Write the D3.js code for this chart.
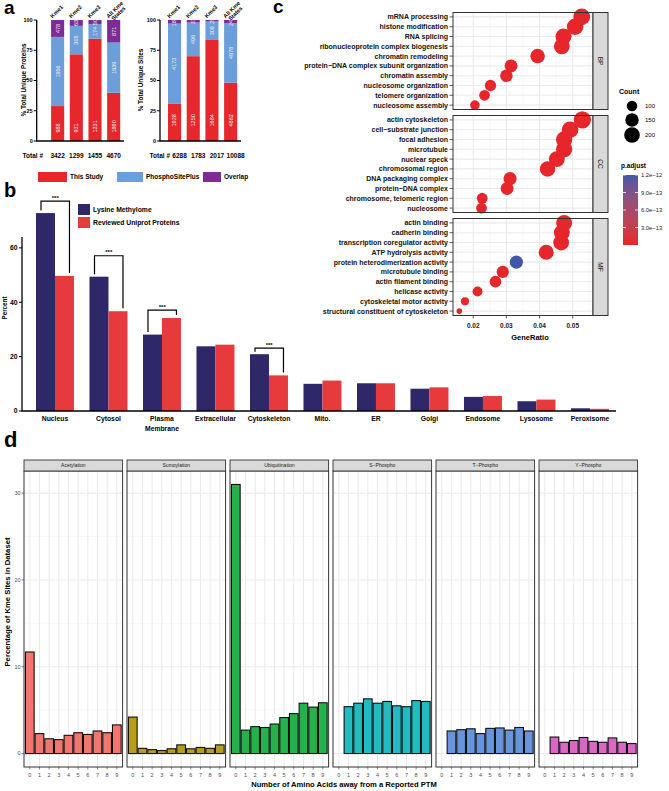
<!DOCTYPE html>
<html><head><meta charset="utf-8">
<script src="https://cdn.jsdelivr.net/npm/d3@7"></script>
<style>
body{margin:0;background:#fff}
svg{display:block}
text{font-family:"Liberation Sans",Arial,Helvetica,sans-serif}
</style>
</head><body>
<svg id="fig" width="669" height="791"></svg>
<script>
// ================= DATA =================
// Panel a
const kmeStates = ["Kme1", "Kme2", "Kme3", "All Kme States"];
const proteinsThisStudy = [988, 931, 1231, 1860];
const proteinsPSP = [1956, 305, 174, 1939];
const proteinsOverlap = [478, 63, 50, 871];
const proteinsTotal = [3422, 1299, 1455, 4670];
const sitesThisStudy = [1928, 1250, 1684, 4862];
const sitesPSP = [4173, 496, 308, 4978];
const sitesOverlap = [187, 37, 25, 248];
const sitesTotal = [6288, 1783, 2017, 10088];
const aTicks = [0, 25, 50, 75, 100];
const aLegend = ["This Study", "PhosphoSitePlus", "Overlap"];

// Panel b
const compartments = ["Nucleus", "Cytosol", "Plasma Membrane", "Extracellular", "Cytoskeleton", "Mito.", "ER", "Golgi", "Endosome", "Lysosome", "Peroxisome"];
const methylomePct = [72.8, 49.4, 28.1, 23.8, 20.9, 10.0, 10.2, 8.2, 5.2, 3.6, 1.0];
const uniprotPct = [49.7, 36.7, 34.2, 24.4, 13.1, 11.2, 10.2, 8.7, 5.5, 4.2, 0.8];
const bSeries = ["Lysine Methylome", "Reviewed Uniprot Proteins"];
const bTicks = [0, 20, 40, 60];
const sigCompartments = ["Nucleus", "Cytosol", "Plasma Membrane", "Cytoskeleton"];
const sigLevels = [77.2, 57.1, 37.1, 23.1];
const sigLabel = "***";

// Panel c
const goOntologies = ["BP", "CC", "MF"];
const bpTerms = ["mRNA processing", "histone modification", "RNA splicing", "ribonucleoprotein complex biogenesis", "chromatin remodeling", "protein\u2212DNA complex subunit organization", "chromatin assembly", "nucleosome organization", "telomere organization", "nucleosome assembly"];
const bpRatio = [0.0527, 0.0507, 0.0472, 0.0467, 0.0394, 0.0314, 0.0300, 0.0252, 0.0234, 0.0205];
const bpCount = [232, 223, 208, 205, 173, 138, 132, 111, 103, 90];
const bpPadj = [1e-40, 1e-38, 1e-33, 1e-30, 1e-28, 1e-25, 1e-24, 1e-22, 1e-20, 1e-19];
const ccTerms = ["actin cytoskeleton", "cell\u2212substrate junction", "focal adhesion", "microtubule", "nuclear speck", "chromosomal region", "DNA packaging complex", "protein\u2212DNA complex", "chromosome, telomeric region", "nucleosome"];
const ccRatio = [0.0529, 0.0492, 0.0474, 0.0474, 0.0452, 0.0424, 0.0311, 0.0302, 0.0227, 0.0225];
const ccCount = [245, 228, 219, 219, 209, 196, 144, 140, 105, 104];
const ccPadj = [1e-42, 1e-36, 1e-34, 1e-33, 1e-31, 1e-29, 1e-24, 1e-23, 1e-19, 1e-18];
const mfTerms = ["actin binding", "cadherin binding", "transcription coregulator activity", "ATP hydrolysis activity", "protein heterodimerization activity", "microtubule binding", "actin filament binding", "helicase activity", "cytoskeletal motor activity", "structural constituent of cytoskeleton"];
const mfRatio = [0.0474, 0.0467, 0.0465, 0.0420, 0.0330, 0.0289, 0.0267, 0.0213, 0.0175, 0.0158];
const mfCount = [208, 205, 204, 185, 145, 127, 117, 94, 77, 69];
const mfPadj = [1e-30, 1e-29, 1e-28, 1e-25, 1.2e-12, 1e-18, 1e-17, 1e-16, 1e-15, 1e-14];
const cXTicks = [0.02, 0.03, 0.04, 0.05];
const countLegend = [100, 150, 200];
const padjLegend = [1.2e-12, 9.0e-13, 6.0e-13, 3.0e-13];
const padjLegendLabels = ["1.2e\u221212", "9.0e\u221213", "6.0e\u221213", "3.0e\u221213"];

// Panel d
const ptmTypes = ["Acetylation", "Sumoylation", "Ubiquitination", "S\u2212Phospho", "T\u2212Phospho", "Y\u2212Phospho"];
const distances = ["0", "1", "2", "3", "4", "5", "6", "7", "8", "9"];
const acetylationPct = [11.7, 2.3, 1.7, 1.6, 2.1, 2.4, 2.2, 2.6, 2.4, 3.3];
const sumoylationPct = [4.2, 0.6, 0.45, 0.35, 0.55, 1.0, 0.55, 0.7, 0.6, 1.0];
const ubiquitinationPct = [31.0, 2.7, 3.1, 3.0, 3.4, 4.15, 4.6, 5.8, 5.35, 5.85];
const sPhosphoPct = [null, 5.4, 5.8, 6.3, 5.8, 6.0, 5.5, 5.4, 6.1, 6.0];
const tPhosphoPct = [null, 2.6, 2.75, 2.85, 2.3, 2.9, 2.95, 2.7, 3.0, 2.6];
const yPhosphoPct = [null, 1.9, 1.3, 1.5, 1.85, 1.4, 1.3, 1.8, 1.3, 1.15];
const dTicks = [0, 10, 20, 30];

// ================= STYLE =================
const RED_A = "#E6282C", BLUE_A = "#6C9FD9", PURPLE_A = "#7B2C96";
const NAVY_B = "#2E2868", RED_B = "#E63A3D";
const LOW_C = "#E6262B", HIGH_C = "#4257A8";
const PTM_COLORS = ["#F2766D", "#B59C1C", "#24B24A", "#20BCC2", "#6794DA", "#DB67C4"];
const GRID = "#EBEBEB", BORDER = "#333333";

const svg = d3.select("#fig");

function panelLabel(t, x, y, fs) {
  svg.append("text").attr("x", x).attr("y", y).attr("font-size", fs)
    .attr("font-weight", "bold").text(t);
}
panelLabel("a", 4, 14, 19);
panelLabel("b", 4, 197, 20);
panelLabel("c", 273, 13, 19);
panelLabel("d", 4, 447, 22);

// ================= PANEL A =================
function stackedPanel(o) {
  const y = d3.scaleLinear().domain([0, 100]).range([141, 20]);
  const x = d3.scaleBand().domain(kmeStates).range(o.xRange).paddingInner(0.3).paddingOuter(0.15);
  const g = svg.append("g");
  kmeStates.forEach((k, i) => {
    const tot = o.a[i] + o.b[i] + o.c[i];
    const cum = [0, o.a[i] / tot * 100, (o.a[i] + o.b[i]) / tot * 100, 100];
    const cols = [RED_A, BLUE_A, PURPLE_A];
    const nums = [o.a[i], o.b[i], o.c[i]];
    for (let s = 0; s < 3; s++) {
      g.append("rect").attr("x", x(k)).attr("width", x.bandwidth())
        .attr("y", y(cum[s + 1])).attr("height", y(cum[s]) - y(cum[s + 1]))
        .attr("fill", cols[s]);
    }
    for (let s = 0; s < 3; s++) {
      const cx = x(k) + x.bandwidth() / 2;
      let t;
      if (s === 0) {
        t = g.append("text").attr("transform", `translate(${cx},${y(o.redStart)}) rotate(-90)`)
          .attr("text-anchor", "start");
      } else {
        const cy = y((cum[s] + cum[s + 1]) / 2);
        t = g.append("text").attr("transform", `translate(${cx},${cy}) rotate(-90)`)
          .attr("text-anchor", "middle");
      }
      t.attr("dy", "0.35em").attr("font-size", 5.5).attr("fill", "#EEEEEE").text(nums[s]);
    }
    // header
    const hx = x(k) + 1.5;
    const words = k === "All Kme States" ? ["All Kme", "States"] : [k];
    const ht = g.append("text").attr("transform", `translate(${hx},18.5) rotate(-45)`)
      .attr("font-size", 5.7).attr("font-weight", "bold");
    words.forEach((w, wi) => ht.append("tspan").attr("x", wi * 2).attr("dy", wi ? 5.3 : 0).text(w));
    // totals
    g.append("text").attr("x", x(k) + x.bandwidth() / 2 + o.totShift).attr("y", 157.5)
      .attr("text-anchor", "middle").attr("font-size", 6.5).attr("font-weight", "bold").text(o.tot[i]);
  });
  g.append("text").attr("x", o.totLabelX).attr("y", 157.5).attr("text-anchor", "end")
    .attr("font-size", 6.5).attr("font-weight", "bold").text("Total #");
  // axes
  g.append("line").attr("x1", o.axisX).attr("x2", o.axisX).attr("y1", y(100)).attr("y2", y(0))
    .attr("stroke", "#000").attr("stroke-width", 1.3);
  g.append("line").attr("x1", o.axisX - 0.6).attr("x2", o.xRange[1] + 1).attr("y1", y(0)).attr("y2", y(0))
    .attr("stroke", "#000").attr("stroke-width", 1.5);
  aTicks.forEach(t => {
    g.append("line").attr("x1", o.axisX - 3).attr("x2", o.axisX).attr("y1", y(t)).attr("y2", y(t))
      .attr("stroke", "#000").attr("stroke-width", 1);
    g.append("text").attr("x", o.axisX - 4).attr("y", y(t)).attr("dy", "0.35em")
      .attr("text-anchor", "end").attr("font-size", 5.5).attr("font-weight", "bold").text(t);
  });
  g.append("text").attr("transform", `translate(${o.titleX},80) rotate(-90)`)
    .attr("text-anchor", "middle").attr("font-size", 6.4).attr("font-weight", "bold").text(o.title);
}
stackedPanel({a: proteinsThisStudy, b: proteinsPSP, c: proteinsOverlap, tot: proteinsTotal,
  xRange: [48.3, 123], axisX: 36.7, title: "% Total Unique Proteins", titleX: 25.5,
  totShift: 0, totLabelX: 43, redStart: 7});
stackedPanel({a: sitesThisStudy, b: sitesPSP, c: sitesOverlap, tot: sitesTotal,
  xRange: [165.2, 240], axisX: 160, title: "% Total Unique Sites", titleX: 142.5,
  totShift: 5, totLabelX: 170, redStart: 12});

// legend a
(function () {
  const items = [{x: 38, w: 29, c: RED_A}, {x: 117, w: 26, c: BLUE_A}, {x: 203, w: 18, c: PURPLE_A}];
  items.forEach((it, i) => {
    svg.append("rect").attr("x", it.x).attr("y", 172).attr("width", it.w).attr("height", 10).attr("fill", it.c);
    svg.append("text").attr("x", it.x + it.w + 3).attr("y", 177).attr("dy", "0.35em")
      .attr("font-size", 6.5).attr("font-weight", "bold").text(aLegend[i]);
  });
})();

// ================= PANEL B =================
(function () {
  const y = d3.scaleLinear().domain([0, 64]).range([411, 237]);
  const x = d3.scaleBand().domain(compartments).range([28.24, 616.7]).paddingInner(0.29).paddingOuter(0.145);
  const xs = d3.scaleBand().domain(bSeries).range([0, x.bandwidth()]);
  const g = svg.append("g");
  compartments.forEach((c, i) => {
    [methylomePct[i], uniprotPct[i]].forEach((v, s) => {
      g.append("rect").attr("x", x(c) + xs(bSeries[s])).attr("width", xs.bandwidth())
        .attr("y", y(v)).attr("height", y(0) - y(v)).attr("fill", s ? RED_B : NAVY_B);
    });
    const words = c === "Plasma Membrane" ? ["Plasma", "Membrane"] : [c];
    words.forEach((w, wi) => {
      g.append("text").attr("x", x(c) + x.bandwidth() / 2).attr("y", 420.5 + wi * 10)
        .attr("text-anchor", "middle").attr("font-size", 6.8).attr("font-weight", "bold").text(w);
    });
  });
  sigCompartments.forEach((c, k) => {
    const i = compartments.indexOf(c);
    const lx = x(c) + 5, rx = x(c) + x.bandwidth() - 4.5;
    const ly = y(sigLevels[k]);
    g.append("path").attr("d", `M${lx},${y(methylomePct[i]) - 2.5}V${ly}H${rx}V${y(uniprotPct[i]) - 3}`)
      .attr("fill", "none").attr("stroke", "#000").attr("stroke-width", 1.2);
    g.append("text").attr("x", (lx + rx) / 2).attr("y", ly - 1.5).attr("text-anchor", "middle")
      .attr("font-size", 6).attr("font-weight", "bold").text(sigLabel);
  });
  g.append("line").attr("x1", 22).attr("x2", 22).attr("y1", y(64)).attr("y2", y(0))
    .attr("stroke", "#000").attr("stroke-width", 1.3);
  g.append("line").attr("x1", 21.4).attr("x2", 616).attr("y1", y(0)).attr("y2", y(0))
    .attr("stroke", "#000").attr("stroke-width", 1.5);
  bTicks.forEach(t => {
    g.append("line").attr("x1", 19).attr("x2", 22).attr("y1", y(t)).attr("y2", y(t)).attr("stroke", "#000");
    g.append("text").attr("x", 17.5).attr("y", y(t)).attr("dy", "0.35em").attr("text-anchor", "end")
      .attr("font-size", 6.8).attr("font-weight", "bold").text(t);
  });
  g.append("text").attr("transform", "translate(7,308) rotate(-90)").attr("text-anchor", "middle")
    .attr("font-size", 6.3).attr("font-weight", "bold").text("Percent");
  [NAVY_B, RED_B].forEach((col, s) => {
    g.append("rect").attr("x", 78).attr("y", 204 + s * 13).attr("width", 12).attr("height", 11).attr("fill", col);
    g.append("text").attr("x", 93).attr("y", 209.5 + s * 13).attr("dy", "0.35em")
      .attr("font-size", 6.8).attr("font-weight", "bold").text(bSeries[s]);
  });
})();

// ================= PANEL C =================
(function () {
  const x = d3.scaleLinear().domain([0.0139, 0.0561]).range([453, 593]);
  const color = d3.scaleLinear().domain([0, 1.2e-12]).range([LOW_C, HIGH_C]).interpolate(d3.interpolateLab);
  const allCounts = bpCount.concat(ccCount, mfCount);
  const cMin = d3.min(allCounts), cMax = d3.max(allCounts);
  const rs = d3.scaleSqrt().domain([0, cMax - cMin]).range([0, 5.8]);
  const r = c => 2.8 + rs(Math.max(0, c - cMin));
  const panels = [
    {terms: bpTerms, ratio: bpRatio, count: bpCount, padj: bpPadj, top: 12.5},
    {terms: ccTerms, ratio: ccRatio, count: ccCount, padj: ccPadj, top: 115.5},
    {terms: mfTerms, ratio: mfRatio, count: mfCount, padj: mfPadj, top: 218.5}
  ];
  const H = 97;
  const g = svg.append("g");
  panels.forEach((p, pi) => {
    const y = d3.scalePoint().domain(p.terms).range([p.top, p.top + H]).padding(0.45);
    g.append("rect").attr("x", 453).attr("y", p.top).attr("width", 140).attr("height", H).attr("fill", "#fff");
    [0.015, 0.025, 0.035, 0.045, 0.055].forEach(v => {
      g.append("line").attr("x1", x(v)).attr("x2", x(v)).attr("y1", p.top).attr("y2", p.top + H)
        .attr("stroke", "#F3F3F3").attr("stroke-width", 0.6);
    });
    cXTicks.forEach(v => {
      g.append("line").attr("x1", x(v)).attr("x2", x(v)).attr("y1", p.top).attr("y2", p.top + H)
        .attr("stroke", GRID).attr("stroke-width", 1.1);
    });
    p.terms.forEach(t => {
      g.append("line").attr("x1", 453).attr("x2", 593).attr("y1", y(t)).attr("y2", y(t))
        .attr("stroke", GRID).attr("stroke-width", 1.1);
      g.append("line").attr("x1", 449.5).attr("x2", 453).attr("y1", y(t)).attr("y2", y(t))
        .attr("stroke", BORDER).attr("stroke-width", 0.8);
      g.append("text").attr("x", 448).attr("y", y(t)).attr("dy", "0.35em").attr("text-anchor", "end")
        .attr("font-size", 7).attr("font-weight", "bold").attr("fill", "#111").text(t);
    });
    d3.range(p.terms.length).reverse().forEach(i => {
      g.append("circle").attr("cx", x(p.ratio[i])).attr("cy", y(p.terms[i])).attr("r", r(p.count[i]))
        .attr("fill", color(p.padj[i]));
    });
    g.append("rect").attr("x", 453).attr("y", p.top).attr("width", 140).attr("height", H)
      .attr("fill", "none").attr("stroke", BORDER).attr("stroke-width", 1);
    g.append("rect").attr("x", 593).attr("y", p.top).attr("width", 15).attr("height", H)
      .attr("fill", "#D9D9D9").attr("stroke", BORDER).attr("stroke-width", 1);
    g.append("text").attr("transform", `translate(${600.5},${p.top + H / 2}) rotate(90)`)
      .attr("text-anchor", "middle").attr("dy", "0.35em").attr("font-size", 6.5)
      .attr("fill", "#1A1A1A").text(goOntologies[pi]);
  });
  const bottom = 218.5 + H;
  cXTicks.forEach(v => {
    g.append("line").attr("x1", x(v)).attr("x2", x(v)).attr("y1", bottom).attr("y2", bottom + 3)
      .attr("stroke", BORDER).attr("stroke-width", 0.8);
    g.append("text").attr("x", x(v)).attr("y", 327.5).attr("text-anchor", "middle")
      .attr("font-size", 6.5).attr("font-weight", "bold").attr("fill", "#222").text(d3.format(".2f")(v));
  });
  g.append("text").attr("x", 530).attr("y", 340).attr("text-anchor", "middle")
    .attr("font-size", 7.5).attr("font-weight", "bold").text("GeneRatio");

  g.append("text").attr("x", 619).attr("y", 94).attr("font-size", 7).attr("font-weight", "bold").text("Count");
  const ly = [106, 120, 135];
  countLegend.forEach((c, i) => {
    g.append("circle").attr("cx", 632).attr("cy", ly[i]).attr("r", r(c)).attr("fill", "#000");
    g.append("text").attr("x", 645).attr("y", ly[i]).attr("dy", "0.35em").attr("font-size", 6).text(c);
  });
  g.append("text").attr("x", 621).attr("y", 168).attr("font-size", 6.5).attr("font-weight", "bold").text("p.adjust");
  const cy = d3.scaleLinear().domain([0, 1.2e-12]).range([245, 175]);
  const defs = svg.append("defs");
  const grad = defs.append("linearGradient").attr("id", "padjGrad").attr("x1", 0).attr("x2", 0).attr("y1", 1).attr("y2", 0);
  d3.range(0, 1.0001, 0.1).forEach(f => {
    grad.append("stop").attr("offset", f).attr("stop-color", color(f * 1.2e-12));
  });
  g.append("rect").attr("x", 623).attr("y", 175).attr("width", 15).attr("height", 70).attr("fill", "url(#padjGrad)");
  padjLegend.forEach((v, i) => {
    g.append("line").attr("x1", 623).attr("x2", 626).attr("y1", cy(v)).attr("y2", cy(v)).attr("stroke", "#fff").attr("stroke-width", 0.8);
    g.append("line").attr("x1", 635).attr("x2", 638).attr("y1", cy(v)).attr("y2", cy(v)).attr("stroke", "#fff").attr("stroke-width", 0.8);
    g.append("text").attr("x", 641).attr("y", cy(v)).attr("dy", "0.35em").attr("font-size", 5.8)
      .attr("fill", "#222").text(padjLegendLabels[i]);
  });
})();

// ================= PANEL D =================
(function () {
  const series = [acetylationPct, sumoylationPct, ubiquitinationPct, sPhosphoPct, tPhosphoPct, yPhosphoPct];
  const y = d3.scaleLinear().domain([-1.55, 32.55]).range([767, 471]);
  const X0 = 24, W = 98.6, STEP = 103;
  const g = svg.append("g");
  ptmTypes.forEach((ptm, pi) => {
    const x0 = X0 + pi * STEP;
    const x = d3.scaleBand().domain(distances).range([x0, x0 + W]).paddingInner(0.1).paddingOuter(0.15);
    [5, 15, 25].forEach(v => g.append("line").attr("x1", x0).attr("x2", x0 + W).attr("y1", y(v)).attr("y2", y(v))
      .attr("stroke", "#F3F3F3").attr("stroke-width", 0.6));
    dTicks.forEach(v => g.append("line").attr("x1", x0).attr("x2", x0 + W).attr("y1", y(v)).attr("y2", y(v))
      .attr("stroke", GRID).attr("stroke-width", 1.1));
    distances.forEach(dd => {
      const cx = x(dd) + x.bandwidth() / 2;
      g.append("line").attr("x1", cx).attr("x2", cx).attr("y1", 471).attr("y2", 767)
        .attr("stroke", GRID).attr("stroke-width", 1.1);
    });
    series[pi].forEach((v, i) => {
      if (v == null) return;
      g.append("rect").attr("x", x(distances[i])).attr("width", x.bandwidth())
        .attr("y", y(v)).attr("height", y(0) - y(v))
        .attr("fill", PTM_COLORS[pi]).attr("stroke", "#111").attr("stroke-width", 1.1);
    });
    g.append("rect").attr("x", x0).attr("y", 471).attr("width", W).attr("height", 296)
      .attr("fill", "none").attr("stroke", BORDER).attr("stroke-width", 1);
    g.append("rect").attr("x", x0).attr("y", 460).attr("width", W).attr("height", 11)
      .attr("fill", "#D9D9D9").attr("stroke", BORDER).attr("stroke-width", 0.9);
    g.append("text").attr("x", x0 + W / 2).attr("y", 465.5).attr("dy", "0.35em").attr("text-anchor", "middle")
      .attr("font-size", 5).attr("fill", "#1A1A1A").text(ptm);
    distances.forEach(dd => {
      const cx = x(dd) + x.bandwidth() / 2;
      g.append("line").attr("x1", cx).attr("x2", cx).attr("y1", 767).attr("y2", 769.5)
        .attr("stroke", BORDER).attr("stroke-width", 0.6);
      g.append("text").attr("x", cx).attr("y", 776.5).attr("text-anchor", "middle")
        .attr("font-size", 5.5).attr("fill", "#4D4D4D").text(dd);
    });
  });
  dTicks.forEach(v => {
    g.append("line").attr("x1", 21.5).attr("x2", 24).attr("y1", y(v)).attr("y2", y(v))
      .attr("stroke", BORDER).attr("stroke-width", 0.6);
    g.append("text").attr("x", 20.5).attr("y", y(v)).attr("dy", "0.35em").attr("text-anchor", "end")
      .attr("font-size", 5.5).attr("fill", "#4D4D4D").text(v);
  });
  g.append("text").attr("transform", "translate(10,602) rotate(-90)").attr("text-anchor", "middle")
    .attr("font-size", 7.7).attr("font-weight", "bold").text("Percentage of Kme Sites in Dataset");
  g.append("text").attr("x", 344).attr("y", 787).attr("text-anchor", "middle")
    .attr("font-size", 7.6).attr("font-weight", "bold").text("Number of Amino Acids away from a Reported PTM");
})();
</script>
</body></html>
